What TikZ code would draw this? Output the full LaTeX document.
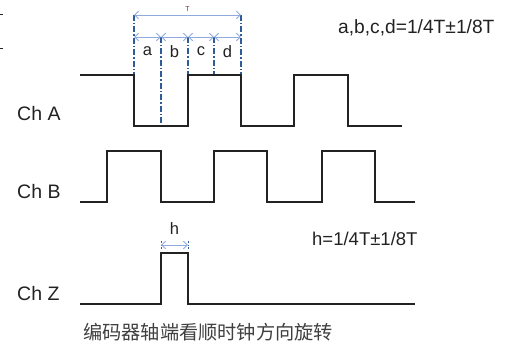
\documentclass[tikz,border=0pt]{standalone}
\usepackage{fontspec}
\setmainfont{Liberation Sans}
\newfontfamily\cjk{Noto Sans CJK SC}
\usetikzlibrary{arrows.meta}
\definecolor{dimblue}{HTML}{2E5B9A}
\definecolor{arrblue}{HTML}{8FAADC}
\definecolor{tred}{HTML}{8B2040}
\definecolor{inkgray}{HTML}{222222}
\begin{document}
\begin{tikzpicture}[x=1pt,y=-1pt,
  wave/.style={line width=1.8pt, line join=miter, draw=inkgray},
  guide/.style={draw=dimblue, line width=1.2pt, dash pattern=on 6pt off 2pt on 1.5pt off 2pt},
  dimarrow/.style={draw=arrblue, line width=0.9pt, {Straight Barb[length=4pt,width=7.5pt]}-{Straight Barb[length=4pt,width=7.5pt]}},
  chlabel/.style={font=\fontsize{19.5}{21}\selectfont, text=inkgray, inner sep=0pt, anchor=west},
  seglabel/.style={font=\fontsize{16.5}{18}\selectfont, text=inkgray, inner sep=0pt},
  note/.style={font=\fontsize{19.2}{21}\selectfont, text=inkgray, inner sep=0pt, anchor=west},
  edgetick/.style={draw=inkgray, line width=0.9pt}
]
\useasboundingbox (0,0) rectangle (510,344);

% tiny marks at left edge
\draw[edgetick] (0,14) -- (3,14);
\draw[edgetick] (0,48) -- (3,48);

% guide coordinates
\coordinate (t0) at (134,15);
\coordinate (t4) at (241,15);
\coordinate (q0) at (134,37);
\coordinate (q1) at (161,37);
\coordinate (q2) at (188,37);
\coordinate (q3) at (214,37);
\coordinate (q4) at (241,37);
\coordinate (g0) at (134,75);
\coordinate (g1) at (161,126);
\coordinate (g2) at (188,75);
\coordinate (g3) at (214,75);
\coordinate (g4) at (241,75);

% dash-dot guides
\draw[guide] (t0) -- (g0);
\draw[guide] (q1) -- (g1);
\draw[guide] (q2) -- (g2);
\draw[guide] (q3) -- (g3);
\draw[guide] (t4) -- (g4);

% dimension arrows
\draw[dimarrow] (t0) -- (t4);
\draw[dimarrow] (q0) -- (q1);
\draw[dimarrow] (q1) -- (q2);
\draw[dimarrow] (q2) -- (q3);
\draw[dimarrow] (q3) -- (q4);

\node[font=\fontsize{7}{8}\selectfont, text=tred, inner sep=0pt] (tlab) at (187.5,9) {T};
\node[seglabel] (la) at (147.5,51.5) {a};
\node[seglabel] (lb) at (174.5,51.5) {b};
\node[seglabel] (lc) at (201,51.5) {c};
\node[seglabel] (ld) at (227.5,51.5) {d};

% waveforms
\draw[wave] (80,75) -- (134,75) -- (134,126) -- (188,126) -- (188,75) -- (241,75) -- (241,126)
  -- (294,126) -- (294,75) -- (348,75) -- (348,126) -- (402,126);
\draw[wave] (80,202) -- (107,202) -- (107,151) -- (161,151) -- (161,202) -- (214,202) -- (214,151)
  -- (267,151) -- (267,202) -- (322,202) -- (322,151) -- (375,151) -- (375,202) -- (415,202);
\draw[wave] (80,304) -- (161,304) -- (161,253) -- (188,253) -- (188,304) -- (415,304);

% h dimension
\coordinate (h0) at (161,245);
\coordinate (h1) at (188,245);
\draw[guide, line width=1pt, dash pattern=on 2pt off 1.5pt on 1pt off 1.5pt] (161,241) -- (161,249);
\draw[guide, line width=1pt, dash pattern=on 2pt off 1.5pt on 1pt off 1.5pt] (188,241) -- (188,249);
\draw[dimarrow] (h0) -- (h1);
\node[seglabel] (hlab) at (174.5,229) {h};

% labels
\node[chlabel] (cha) at (17,113.5) {Ch A};
\node[chlabel] (chb) at (17,192) {Ch B};
\node[chlabel] (chz) at (17,294) {Ch Z};
\node[note] (n1) at (338,27.5) {a,b,c,d=1/4T±1/8T};
\node[note, font=\fontsize{18.5}{20}\selectfont] (n2) at (312,238.5) {h=1/4T±1/8T};
\node[font=\cjk\fontsize{19.2}{21}\selectfont, text=black!75, inner sep=0pt] (cap) at (208,332) {编码器轴端看顺时钟方向旋转};
\end{tikzpicture}
\end{document}
